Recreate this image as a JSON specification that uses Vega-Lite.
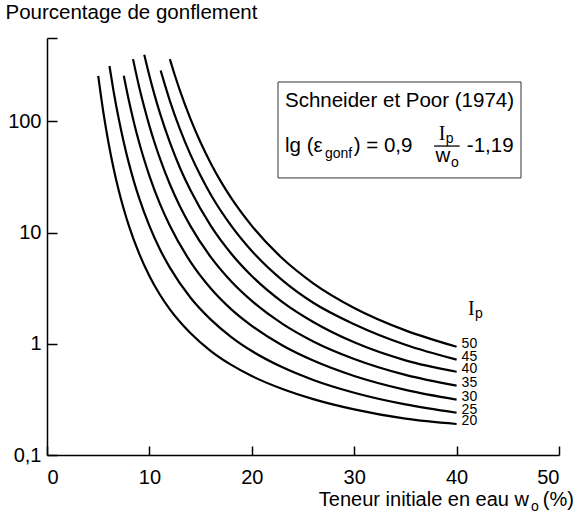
{
  "$schema": "https://vega.github.io/schema/vega-lite/v6.json",
  "width": 512,
  "height": 417,
  "autosize": {"type": "none"},
  "padding": {"left": 47, "top": 38, "right": 16, "bottom": 62},
  "background": "white",
  "config": {
    "view": {"stroke": null},
    "font": "Liberation Sans",
    "axis": {
      "domainColor": "black", "domainWidth": 1.5, "tickColor": "black", "tickWidth": 1.5,
      "labelColor": "black", "labelFont": "Liberation Sans", "labelFontSize": 20, "grid": false
    }
  },
  "datasets": {
    "curves": [
      {"Ip": 20, "w": 5, "v": 257}, {"Ip": 20, "w": 5.5, "v": 121}, {"Ip": 20, "w": 6, "v": 64.6}, {"Ip": 20, "w": 6.5, "v": 37.9}, {"Ip": 20, "w": 7, "v": 24.0}, {"Ip": 20, "w": 7.5, "v": 16.2}, {"Ip": 20, "w": 8, "v": 11.5}, {"Ip": 20, "w": 9, "v": 6.46}, {"Ip": 20, "w": 10, "v": 4.07}, {"Ip": 20, "w": 11, "v": 2.79}, {"Ip": 20, "w": 12, "v": 2.04}, {"Ip": 20, "w": 14, "v": 1.25}, {"Ip": 20, "w": 16, "v": 0.861}, {"Ip": 20, "w": 18, "v": 0.646}, {"Ip": 20, "w": 20, "v": 0.513}, {"Ip": 20, "w": 23, "v": 0.392}, {"Ip": 20, "w": 26, "v": 0.318}, {"Ip": 20, "w": 30, "v": 0.257}, {"Ip": 20, "w": 35, "v": 0.212}, {"Ip": 20, "w": 40, "v": 0.19},
      {"Ip": 25, "w": 6.1, "v": 315}, {"Ip": 25, "w": 6.5, "v": 187}, {"Ip": 25, "w": 7, "v": 106}, {"Ip": 25, "w": 7.5, "v": 64.6}, {"Ip": 25, "w": 8, "v": 41.9}, {"Ip": 25, "w": 8.5, "v": 28.6}, {"Ip": 25, "w": 9, "v": 20.4}, {"Ip": 25, "w": 10, "v": 11.5}, {"Ip": 25, "w": 11, "v": 7.16}, {"Ip": 25, "w": 12, "v": 4.84}, {"Ip": 25, "w": 14, "v": 2.61}, {"Ip": 25, "w": 16, "v": 1.65}, {"Ip": 25, "w": 18, "v": 1.15}, {"Ip": 25, "w": 20, "v": 0.861}, {"Ip": 25, "w": 23, "v": 0.614}, {"Ip": 25, "w": 26, "v": 0.473}, {"Ip": 25, "w": 30, "v": 0.363}, {"Ip": 25, "w": 35, "v": 0.285}, {"Ip": 25, "w": 40, "v": 0.24},
      {"Ip": 30, "w": 7.5, "v": 257}, {"Ip": 30, "w": 8, "v": 153}, {"Ip": 30, "w": 8.5, "v": 96.9}, {"Ip": 30, "w": 9, "v": 64.6}, {"Ip": 30, "w": 9.5, "v": 44.9}, {"Ip": 30, "w": 10, "v": 32.4}, {"Ip": 30, "w": 11, "v": 18.4}, {"Ip": 30, "w": 12, "v": 11.5}, {"Ip": 30, "w": 14, "v": 5.48}, {"Ip": 30, "w": 16, "v": 3.14}, {"Ip": 30, "w": 18, "v": 2.04}, {"Ip": 30, "w": 20, "v": 1.45}, {"Ip": 30, "w": 23, "v": 0.964}, {"Ip": 30, "w": 26, "v": 0.706}, {"Ip": 30, "w": 30, "v": 0.513}, {"Ip": 30, "w": 35, "v": 0.385}, {"Ip": 30, "w": 40, "v": 0.315},
      {"Ip": 35, "w": 8.4, "v": 363}, {"Ip": 35, "w": 9, "v": 204}, {"Ip": 35, "w": 9.5, "v": 134}, {"Ip": 35, "w": 10, "v": 91.2}, {"Ip": 35, "w": 10.5, "v": 64.6}, {"Ip": 35, "w": 11, "v": 47.2}, {"Ip": 35, "w": 12, "v": 27.2}, {"Ip": 35, "w": 13, "v": 17.1}, {"Ip": 35, "w": 14, "v": 11.5}, {"Ip": 35, "w": 16, "v": 6.01}, {"Ip": 35, "w": 18, "v": 3.63}, {"Ip": 35, "w": 20, "v": 2.43}, {"Ip": 35, "w": 23, "v": 1.51}, {"Ip": 35, "w": 26, "v": 1.05}, {"Ip": 35, "w": 30, "v": 0.73}, {"Ip": 35, "w": 35, "v": 0.525}, {"Ip": 35, "w": 40, "v": 0.42},
      {"Ip": 40, "w": 9.5, "v": 397}, {"Ip": 40, "w": 10, "v": 257}, {"Ip": 40, "w": 10.5, "v": 173}, {"Ip": 40, "w": 11, "v": 121}, {"Ip": 40, "w": 12, "v": 64.6}, {"Ip": 40, "w": 13, "v": 37.9}, {"Ip": 40, "w": 14, "v": 24.1}, {"Ip": 40, "w": 16, "v": 11.5}, {"Ip": 40, "w": 18, "v": 6.46}, {"Ip": 40, "w": 20, "v": 4.07}, {"Ip": 40, "w": 23, "v": 2.37}, {"Ip": 40, "w": 26, "v": 1.57}, {"Ip": 40, "w": 30, "v": 1.03}, {"Ip": 40, "w": 35, "v": 0.71}, {"Ip": 40, "w": 40, "v": 0.56},
      {"Ip": 45, "w": 11.1, "v": 287}, {"Ip": 45, "w": 11.5, "v": 215}, {"Ip": 45, "w": 12, "v": 153}, {"Ip": 45, "w": 13, "v": 84.2}, {"Ip": 45, "w": 14, "v": 50.5}, {"Ip": 45, "w": 15, "v": 32.4}, {"Ip": 45, "w": 16, "v": 21.9}, {"Ip": 45, "w": 18, "v": 11.5}, {"Ip": 45, "w": 20, "v": 6.84}, {"Ip": 45, "w": 23, "v": 3.72}, {"Ip": 45, "w": 26, "v": 2.34}, {"Ip": 45, "w": 30, "v": 1.5}, {"Ip": 45, "w": 35, "v": 0.98}, {"Ip": 45, "w": 40, "v": 0.72},
      {"Ip": 50, "w": 12, "v": 363}, {"Ip": 50, "w": 12.5, "v": 257}, {"Ip": 50, "w": 13, "v": 187}, {"Ip": 50, "w": 14, "v": 106}, {"Ip": 50, "w": 15, "v": 64.6}, {"Ip": 50, "w": 16, "v": 41.9}, {"Ip": 50, "w": 17, "v": 28.6}, {"Ip": 50, "w": 18, "v": 20.4}, {"Ip": 50, "w": 20, "v": 11.5}, {"Ip": 50, "w": 23, "v": 5.84}, {"Ip": 50, "w": 26, "v": 3.5}, {"Ip": 50, "w": 30, "v": 2.1}, {"Ip": 50, "w": 35, "v": 1.32}, {"Ip": 50, "w": 40, "v": 0.94}
    ],
    "box": [{"w": 22.56, "w2": 46.29, "v": 31, "v2": 226}],
    "notes": [
      {"t": "Schneider et Poor (1974)", "w": 23.24, "v": 134, "role": "main"},
      {"t": "lg (ε", "w": 23.24, "v": 53.2, "role": "main"},
      {"t": "gonf", "w": 27.15, "v": 46.9, "role": "sub"},
      {"t": ") = 0,9", "w": 29.95, "v": 53.2, "role": "main"},
      {"t": "I", "w": 38.25, "v": 68.1, "role": "serif"},
      {"t": "p", "w": 38.95, "v": 63.9, "role": "sub"},
      {"t": "", "w": 37.8, "w2": 40.3, "v": 60.0, "role": "bar"},
      {"t": "w", "w": 37.95, "v": 43.2, "role": "main"},
      {"t": "o", "w": 39.45, "v": 38.9, "role": "sub"},
      {"t": "-1,19", "w": 41.0, "v": 53.2, "role": "main"},
      {"t": "I", "w": 41.11, "v": 1.815, "role": "serif"},
      {"t": "p", "w": 41.8, "v": 1.706, "role": "sub"},
      {"t": "Teneur initiale en eau w", "w": 47.07, "v": 0.0348, "role": "mainR"},
      {"t": "o", "w": 47.27, "v": 0.0314, "role": "sub"},
      {"t": "(%)", "w": 51.46, "v": 0.0348, "role": "mainR"}
    ]
  },
  "encoding": {
    "x": {
      "field": "w", "type": "quantitative",
      "scale": {"domain": [0, 50], "nice": false, "zero": false},
      "axis": {"values": [0, 10, 20, 30, 40, 50], "title": null, "tickSize": -9, "labelPadding": 21, "format": "d"}
    },
    "y": {
      "field": "v", "type": "quantitative",
      "scale": {"type": "log", "domain": [0.1, 562], "nice": false},
      "axis": {
        "values": [0.1, 1, 10, 100, 562], "tickSize": -10, "labelPadding": 16,
        "labelExpr": "datum.value == 0.1 ? '0,1' : datum.value == 1 ? '1' : datum.value == 10 ? '10' : datum.value == 100 ? '100' : ''",
        "title": "Pourcentage de gonflement", "titleAngle": 0, "titleAlign": "left", "titleBaseline": "alphabetic",
        "titleX": -42, "titleY": -20, "titleFont": "Liberation Sans", "titleFontSize": 20.5, "titleFontWeight": "normal", "titleColor": "black"
      }
    }
  },
  "layer": [
    {
      "data": {"name": "box"},
      "mark": {"type": "rect", "fill": "white", "stroke": "#333", "strokeWidth": 1},
      "encoding": {"x2": {"field": "w2"}, "y2": {"field": "v2"}}
    },
    {
      "data": {"name": "curves"},
      "mark": {"type": "line", "color": "black", "strokeWidth": 2.2, "interpolate": "monotone"},
      "encoding": {"detail": {"field": "Ip", "type": "nominal"}}
    },
    {
      "data": {"name": "curves"},
      "transform": [{"filter": "datum.w == 40"}],
      "mark": {"type": "text", "align": "left", "baseline": "middle", "dx": 5, "dy": -3, "fontSize": 14, "font": "Liberation Sans", "color": "black"},
      "encoding": {"text": {"field": "Ip", "type": "nominal"}}
    },
    {
      "data": {"name": "notes"},
      "transform": [{"filter": "datum.role == 'main'"}],
      "mark": {"type": "text", "align": "left", "baseline": "alphabetic", "fontSize": 20.5, "font": "Liberation Sans", "color": "black"},
      "encoding": {"text": {"field": "t"}}
    },
    {
      "data": {"name": "notes"},
      "transform": [{"filter": "datum.role == 'mainR'"}],
      "mark": {"type": "text", "align": "right", "baseline": "alphabetic", "fontSize": 20, "font": "Liberation Sans", "color": "black"},
      "encoding": {"text": {"field": "t"}}
    },
    {
      "data": {"name": "notes"},
      "transform": [{"filter": "datum.role == 'sub'"}],
      "mark": {"type": "text", "align": "left", "baseline": "alphabetic", "fontSize": 14, "font": "Liberation Sans", "color": "black"},
      "encoding": {"text": {"field": "t"}}
    },
    {
      "data": {"name": "notes"},
      "transform": [{"filter": "datum.role == 'serif'"}],
      "mark": {"type": "text", "align": "left", "baseline": "alphabetic", "fontSize": 20, "font": "Liberation Serif", "color": "black"},
      "encoding": {"text": {"field": "t"}}
    },
    {
      "data": {"name": "notes"},
      "transform": [{"filter": "datum.role == 'bar'"}],
      "mark": {"type": "rule", "color": "black", "strokeWidth": 1.3},
      "encoding": {"x2": {"field": "w2"}}
    }
  ]
}
